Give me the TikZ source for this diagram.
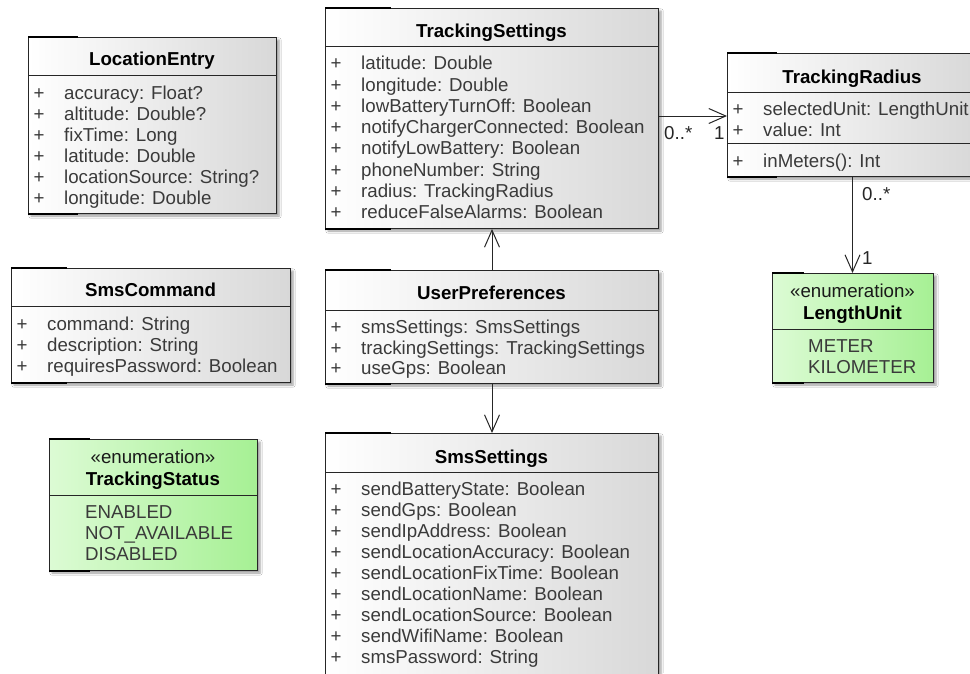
\documentclass[tikz,border=0pt]{standalone}
\usepackage{fontspec}
\setmainfont{Liberation Sans}
\usetikzlibrary{arrows.meta,shadows.blur}
\definecolor{txtgray}{RGB}{58,58,58}
\definecolor{enumL}{RGB}{220,251,212}
\definecolor{enumR}{RGB}{166,240,148}
\definecolor{clsR}{RGB}{216,216,216}
\newcommand\umlfont{\fontsize{18.7}{21}\selectfont}
\tikzset{
  box/.style={draw=black!85, line width=1pt, rectangle, inner sep=0pt, anchor=north west,
    blur shadow={shadow xshift=2.5pt,shadow yshift=-2.5pt,shadow blur radius=2.2pt,shadow opacity=40}},
  classbox/.style={box, left color=white, right color=clsR},
  enumbox/.style={box, left color=enumL, right color=enumR},
  ttl/.style={font=\umlfont\bfseries, text=black, inner sep=0pt, anchor=base},
  ster/.style={font=\umlfont, text=black!90, inner sep=0pt, anchor=base},
  attrtext/.style={font=\umlfont, text=txtgray, inner sep=0pt, anchor=base west},
  plus/.style={font=\umlfont, text=txtgray, inner sep=0pt, anchor=base},
  sepline/.style={draw=black!85, line width=1pt},
  darkseg/.style={draw=black, line width=1.6pt},
  assoc/.style={draw=black!85, line width=1pt, -{Straight Barb[length=17pt,width=15pt,line width=1pt]}},
  mult/.style={font=\umlfont, text=black!85, inner sep=0pt, anchor=base west}
}
\newcommand\attrrow[4]{%
  \node[plus] (#1p) at (#2+11,#3+6.7) {+};
  \node[attrtext] (#1) at (#2+36,#3+6.7) {#4};}
\newcommand\litrow[4]{\node[attrtext] (#1) at (#2+36,#3+6.7) {#4};}
\begin{document}
\begin{tikzpicture}[x=1pt,y=-1pt]
\useasboundingbox (0,0) rectangle (970,673);
\fill[white] (0,0) rectangle (970,673);
\clip (0,0) rectangle (970,673);

% ---------- LocationEntry ----------
\node[classbox, minimum width=248pt, minimum height=176pt] (le) at (28,37) {};
\draw[darkseg] (le.north west) -- ++(50,0);
\draw[darkseg] (le.south west) -- ++(50,0);
\node[ttl] (le-t) at (152,65) {LocationEntry};
\draw[sepline] (le.west |- 0,75) -- (le.east |- 0,75);
\attrrow{le1}{28}{92.5}{accuracy: Float?}
\attrrow{le2}{28}{113.5}{altitude: Double?}
\attrrow{le3}{28}{134.5}{fixTime: Long}
\attrrow{le4}{28}{155.5}{latitude: Double}
\attrrow{le5}{28}{176.5}{locationSource: String?}
\attrrow{le6}{28}{197.5}{longitude: Double}

% ---------- TrackingSettings ----------
\node[classbox, minimum width=333pt, minimum height=220pt] (ts) at (325,8) {};
\draw[darkseg] (ts.north west) -- ++(66,0);
\draw[darkseg] (ts.south west) -- ++(66,0);
\node[ttl] (ts-t) at (491.5,37) {TrackingSettings};
\draw[sepline] (ts.west |- 0,46.5) -- (ts.east |- 0,46.5);
\attrrow{ts1}{325}{63}{latitude: Double}
\attrrow{ts2}{325}{63+21.3}{longitude: Double}
\attrrow{ts3}{325}{63+21.3*2}{lowBatteryTurnOff: Boolean}
\attrrow{ts4}{325}{63+21.3*3}{notifyChargerConnected: Boolean}
\attrrow{ts5}{325}{63+21.3*4}{notifyLowBattery: Boolean}
\attrrow{ts6}{325}{63+21.3*5}{phoneNumber: String}
\attrrow{ts7}{325}{63+21.3*6}{radius: TrackingRadius}
\attrrow{ts8}{325}{63+21.3*7}{reduceFalseAlarms: Boolean}

% ---------- TrackingRadius ----------
\node[classbox, minimum width=250pt, minimum height=123pt] (tr) at (727,53) {};
\draw[darkseg] (tr.north west) -- ++(50,0);
\draw[darkseg] (tr.south west) -- ++(50,0);
\node[ttl] (tr-t) at (852,83.5) {TrackingRadius};
\draw[sepline] (tr.west |- 0,92) -- (tr.east |- 0,92);
\attrrow{tr1}{727}{109}{selectedUnit: LengthUnit}
\attrrow{tr2}{727}{129.5}{value: Int}
\draw[sepline] (tr.west |- 0,143) -- (tr.east |- 0,143);
\attrrow{tr3}{727}{160.5}{inMeters(): Int}

% ---------- LengthUnit ----------
\node[enumbox, minimum width=161pt, minimum height=109pt] (lu) at (772,273) {};
\draw[darkseg] (lu.north west) -- ++(32,0);
\draw[darkseg] (lu.south west) -- ++(32,0);
\node[ster] (lu-s) at (852.5,297) {«enumeration»};
\node[ttl] (lu-t) at (852.5,319.7) {LengthUnit};
\draw[sepline] (lu.west |- 0,329) -- (lu.east |- 0,329);
\litrow{lu1}{772}{346}{METER}
\litrow{lu2}{772}{367}{KILOMETER}

% ---------- SmsCommand ----------
\node[classbox, minimum width=279pt, minimum height=114pt] (sc) at (11,268) {};
\draw[darkseg] (sc.north west) -- ++(56,0);
\draw[darkseg] (sc.south west) -- ++(56,0);
\node[ttl] (sc-t) at (150.5,296.5) {SmsCommand};
\draw[sepline] (sc.west |- 0,306.5) -- (sc.east |- 0,306.5);
\attrrow{sc1}{11}{323.5}{command: String}
\attrrow{sc2}{11}{344.5}{description: String}
\attrrow{sc3}{11}{365.5}{requiresPassword: Boolean}

% ---------- TrackingStatus ----------
\node[enumbox, minimum width=208pt, minimum height=131pt] (tst) at (49,439) {};
\draw[darkseg] (tst.north west) -- ++(41,0);
\draw[darkseg] (tst.south west) -- ++(41,0);
\node[ster] (tst-s) at (153,463) {«enumeration»};
\node[ttl] (tst-t) at (153,485.5) {TrackingStatus};
\draw[sepline] (tst.west |- 0,495) -- (tst.east |- 0,495);
\litrow{tst1}{49}{512}{ENABLED}
\litrow{tst2}{49}{532.7}{NOT\_AVAILABLE}
\litrow{tst3}{49}{553.4}{DISABLED}

% ---------- UserPreferences ----------
\node[classbox, minimum width=333pt, minimum height=113pt] (up) at (325,270) {};
\draw[darkseg] (up.north west) -- ++(66,0);
\draw[darkseg] (up.south west) -- ++(66,0);
\node[ttl] (up-t) at (491.5,299) {UserPreferences};
\draw[sepline] (up.west |- 0,310) -- (up.east |- 0,310);
\attrrow{up1}{325}{327}{smsSettings: SmsSettings}
\attrrow{up2}{325}{347.5}{trackingSettings: TrackingSettings}
\attrrow{up3}{325}{368}{useGps: Boolean}

% ---------- SmsSettings ----------
\node[classbox, minimum width=333pt, minimum height=260pt] (ss) at (325,433) {};
\draw[darkseg] (ss.north west) -- ++(66,0);
\node[ttl] (ss-t) at (491.5,463) {SmsSettings};
\draw[sepline] (ss.west |- 0,472) -- (ss.east |- 0,472);
\attrrow{ss1}{325}{489}{sendBatteryState: Boolean}
\attrrow{ss2}{325}{489+21}{sendGps: Boolean}
\attrrow{ss3}{325}{489+21*2}{sendIpAddress: Boolean}
\attrrow{ss4}{325}{489+21*3}{sendLocationAccuracy: Boolean}
\attrrow{ss5}{325}{489+21*4}{sendLocationFixTime: Boolean}
\attrrow{ss6}{325}{489+21*5}{sendLocationName: Boolean}
\attrrow{ss7}{325}{489+21*6}{sendLocationSource: Boolean}
\attrrow{ss8}{325}{489+21*7}{sendWifiName: Boolean}
\attrrow{ss9}{325}{489+21*8}{smsPassword: String}

% ---------- Connectors ----------
\draw[assoc] (up.north) -- (ts.south);
\draw[assoc] (up.south) -- (ss.north);
\draw[assoc] (ts.east |- 0,116) -- (tr.west |- 0,116);
\node[mult] (m1) at (664,139) {0..*};
\node[mult] (m2) at (714,139) {1};
\draw[assoc] (tr.south) -- (tr.south |- lu.north);
\node[mult] (m3) at (862,200) {0..*};
\node[mult] (m4) at (862,264) {1};
\end{tikzpicture}
\end{document}
